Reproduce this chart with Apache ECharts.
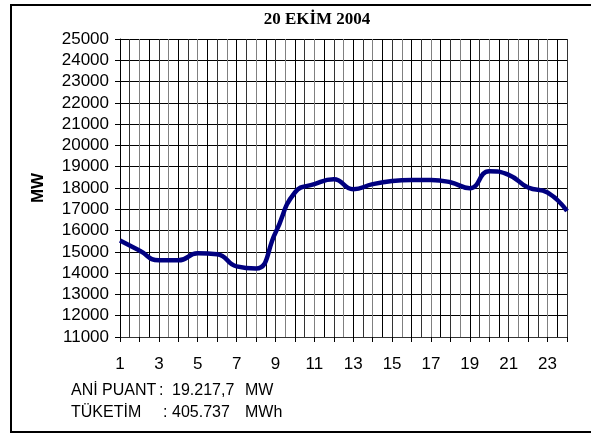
<!DOCTYPE html>
<html>
<head>
<meta charset="utf-8">
<script src="https://cdn.jsdelivr.net/npm/echarts@6/dist/echarts.min.js"></script>
<style>
  html, body { margin: 0; padding: 0; background: #fff; }
  #chart { width: 591px; height: 434px; }
</style>
</head>
<body>
<div id="chart"></div>
<script>
// saatler ve yük değerleri (MW)
const hours = ['1','2','3','4','5','6','7','8','9','10','11','12','13','14','15','16','17','18','19','20','21','22','23','24'];
const loadMW = [15530, 15060, 14600, 14600, 14930, 14890, 14320, 14220, 15900, 17790, 18180, 18410, 17940, 18180, 18330, 18380, 18380, 18270, 17990, 18790, 18620, 18020, 17790, 16920];
const titleText = '20 EKİM 2004';
const noteLabels = ['ANİ PUANT', 'TÜKETİM'];
const noteValues = ['19.217,7', '405.737'];
const noteUnits = ['MW', 'MWh'];

const myChart = echarts.init(document.getElementById('chart'));
const sans = 'Arial, "Liberation Sans", sans-serif';

const notes = [];
noteLabels.forEach((label, i) => {
  const y = 392 + i * 22;
  notes.push(
    { type: 'text', left: 71, top: y - 9, style: { text: label, font: '16px ' + sans, fill: '#000' } },
    { type: 'text', left: i === 0 ? 159 : 163, top: y - 9, style: { text: ':', font: '16px ' + sans, fill: '#000' } },
    { type: 'text', left: 172, top: y - 9, style: { text: noteValues[i], font: '16px ' + sans, fill: '#000' } },
    { type: 'text', left: 245, top: y - 9, style: { text: noteUnits[i], font: '16px ' + sans, fill: '#000' } }
  );
});

const options = {
  animation: false,
  backgroundColor: '#fff',
  grid: { left: 120, right: 24, top: 39, bottom: 97 },
  xAxis: [
    {
      type: 'category',
      data: hours,
      boundaryGap: false,
      axisLine: { lineStyle: { color: '#333', width: 1 } },
      axisTick: { show: true, interval: 0, length: 5, lineStyle: { color: '#000' } },
      axisLabel: { interval: 1, margin: 19, color: '#000', fontSize: 17, fontFamily: sans },
      splitLine: { show: false }
    },
    {
      // yarım saatlik dikey ızgara çizgileri
      type: 'value',
      min: 0,
      max: 46,
      interval: 1,
      position: 'bottom',
      axisLine: { show: false },
      axisTick: { show: false },
      axisLabel: { show: false },
      splitLine: { show: true, lineStyle: { color: ['#000', '#333', '#808080'], width: 1 } }
    }
  ],
  yAxis: {
    type: 'value',
    min: 11000,
    max: 25000,
    interval: 1000,
    axisLine: { show: true, lineStyle: { color: '#000' } },
    axisTick: { show: true, length: 5, lineStyle: { color: '#000' } },
    axisLabel: { margin: 11, color: '#000', fontSize: 17, fontFamily: sans, formatter: v => String(v) },
    splitLine: { show: true, lineStyle: { color: '#000', width: 1 } }
  },
  series: [
    {
      type: 'line',
      data: loadMW,
      smooth: 0.5,
      symbol: 'none',
      lineStyle: { color: '#000080', width: 4.5 },
      z: 5
    }
  ],
  graphic: [
    { type: 'rect', shape: { x: 11, y: 5, width: 600, height: 427 }, style: { fill: 'none', stroke: '#000', lineWidth: 2 }, z: 10 },
    { type: 'text', x: 317, y: 20, style: { text: titleText, font: 'bold 17px "Times New Roman", "Liberation Serif", serif', fill: '#000', textAlign: 'center', textVerticalAlign: 'middle' } },
    { type: 'text', x: 38, y: 188, rotation: Math.PI / 2, style: { text: 'MW', font: 'bold 17px ' + sans, fill: '#000', textAlign: 'center', textVerticalAlign: 'middle' } }
  ].concat(notes)
};
myChart.setOption(options);
</script>
</body>
</html>
